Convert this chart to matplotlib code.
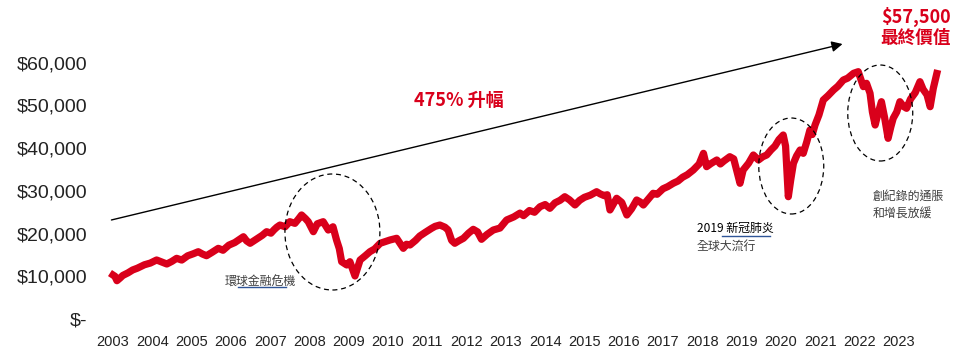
import matplotlib
matplotlib.use("Agg")
import matplotlib.pyplot as plt
from matplotlib.patches import Ellipse

# 數據 (由圖片估算)
years = [2003.00, 2003.05, 2003.10, 2003.18, 2003.25, 2003.38, 2003.50, 2003.62, 2003.80, 2003.95,
         2004.11, 2004.25, 2004.37, 2004.50, 2004.62, 2004.75, 2004.90, 2005.05, 2005.17, 2005.28,
         2005.38, 2005.52, 2005.68, 2005.80, 2005.95, 2006.10, 2006.32, 2006.40, 2006.49, 2006.60,
         2006.70, 2006.80, 2006.91, 2007.02, 2007.10, 2007.17, 2007.25, 2007.38, 2007.50, 2007.63,
         2007.72, 2007.80, 2007.90, 2007.97, 2008.10, 2008.20, 2008.35, 2008.48, 2008.60, 2008.69,
         2008.76, 2008.82, 2008.95, 2009.03, 2009.16, 2009.29, 2009.42, 2009.54, 2009.66, 2009.80,
         2009.92, 2010.05, 2010.22, 2010.39, 2010.47, 2010.56, 2010.70, 2010.81, 2010.95, 2011.11,
         2011.20, 2011.32, 2011.45, 2011.53, 2011.62, 2011.70, 2011.80, 2011.92, 2012.05, 2012.17,
         2012.28, 2012.38, 2012.52, 2012.68, 2012.85, 2013.02, 2013.20, 2013.36, 2013.45, 2013.60,
         2013.73, 2013.87, 2014.00, 2014.12, 2014.25, 2014.38, 2014.50, 2014.62, 2014.76, 2014.88,
         2015.00, 2015.15, 2015.31, 2015.40, 2015.50, 2015.58, 2015.65, 2015.82, 2015.95, 2016.08,
         2016.20, 2016.33, 2016.42, 2016.50, 2016.62, 2016.75, 2016.85, 2017.00, 2017.12, 2017.26,
         2017.38, 2017.50, 2017.62, 2017.77, 2017.92, 2018.03, 2018.11, 2018.22, 2018.37, 2018.46,
         2018.55, 2018.70, 2018.80, 2018.96, 2019.04, 2019.18, 2019.30, 2019.43, 2019.54, 2019.64,
         2019.75, 2019.85, 2019.95, 2020.06, 2020.12, 2020.19, 2020.25, 2020.32, 2020.40, 2020.49,
         2020.57, 2020.66, 2020.74, 2020.80, 2020.87, 2020.97, 2021.08, 2021.20, 2021.34, 2021.45,
         2021.59, 2021.70, 2021.85, 2021.97, 2022.04, 2022.10, 2022.18, 2022.27, 2022.33, 2022.40,
         2022.47, 2022.56, 2022.64, 2022.73, 2022.80, 2022.86, 2022.95, 2023.03, 2023.12, 2023.20,
         2023.30, 2023.42, 2023.54, 2023.62, 2023.72, 2023.80, 2023.88, 2023.97]
values = [10300, 10000, 8970, 9600, 10200, 10800, 11480, 11900, 12700, 13100,
          13820, 13300, 12880, 13500, 14210, 13800, 14800, 15300, 15760, 15200,
          14820, 15600, 16550, 16100, 17300, 17900, 19270, 18300, 17730, 18400,
          19000, 19600, 20450, 20100, 20900, 21500, 22010, 21600, 22790, 22400,
          23400, 24360, 23500, 22790, 20450, 22300, 22790, 20840, 21600, 18500,
          16500, 13420, 12650, 13420, 10070, 13820, 14800, 15760, 16400, 17730,
          18100, 18500, 18900, 16550, 17500, 17330, 18400, 19440, 20300, 21240,
          21700, 22010, 21500, 20840, 18400, 17730, 18300, 18900, 20100, 21000,
          20400, 18660, 19800, 20840, 21300, 23190, 23900, 24800, 24200, 25400,
          25000, 26300, 26800, 25920, 27200, 27800, 28640, 27900, 26700, 27800,
          28500, 29000, 29810, 29300, 28900, 29100, 25530, 28270, 27300, 24360,
          25800, 27870, 27400, 26700, 28000, 29440, 29200, 30500, 31000, 31780,
          32300, 33200, 33800, 34890, 36300, 38800, 35670, 36400, 37240, 36300,
          37000, 38010, 37500, 31780, 34890, 36500, 38410, 37240, 38000, 38410,
          39600, 40500, 42000, 43090, 40500, 28640, 32500, 36460, 38200, 39580,
          38800, 41500, 44260, 43200, 45430, 47800, 51290, 52300, 53630, 54500,
          55970, 56400, 57540, 57920, 56000, 54410, 55200, 52860, 48500, 45430,
          48000, 50890, 47200, 42310, 45000, 47000, 48500, 50890, 49800, 49340,
          51500, 53000, 55580, 53800, 52500, 49720, 54000, 57500]

year_labels = [str(y) for y in range(2003, 2024)]
y_ticks = [0, 10000, 20000, 30000, 40000, 50000, 60000]
y_labels = ["$-", "$10,000", "$20,000", "$30,000", "$40,000", "$50,000", "$60,000"]

red = "#d9001b"
cjk = ["Noto Sans CJK TC", "DejaVu Sans"]
grey = "#404040"

fig = plt.figure(figsize=(9.71, 3.6), dpi=100)
ax = fig.add_axes([113 / 971, 41 / 360, 825 / 971, 256.2 / 360])
ax.set_xlim(2003, 2024)
ax.set_ylim(0, 60000)
for s in ax.spines.values():
    s.set_visible(False)

ax.plot(years, values, color=red, lw=5.2, solid_joinstyle="round", clip_on=False, zorder=3)

ax.set_yticks(y_ticks)
ax.set_yticklabels(y_labels, family="Liberation Sans", fontsize=14, color="#222222")
ax.set_xticks(range(2003, 2024))
ax.set_xticklabels(year_labels, family="Liberation Sans", fontsize=10.5, color="#222222")
ax.tick_params(axis="y", length=0, pad=18.7)
ax.tick_params(axis="x", length=0, pad=11.5)

# 箭頭
ax.annotate("", xy=(2021.57, 64400), xytext=(2002.96, 23190), annotation_clip=False,
            arrowprops=dict(arrowstyle="-|>", color="black", lw=1.0, mutation_scale=16,
                            shrinkA=0, shrinkB=0))

# 虛線圈
for cx, cy, w, h in [(2008.585, 20375, 2.417, 27170),
                     (2020.265, 35830, 1.654, 22480),
                     (2022.53, 48240, 1.654, 22480)]:
    ax.add_patch(Ellipse((cx, cy), w, h, fill=False, ec="black", lw=0.9,
                         ls=(0, (4, 3)), clip_on=False, zorder=4))

# 文字
ax.text(2011.80, 51290, "475% 升幅", family=cjk, fontsize=13, fontweight="bold",
        color=red, ha="center", va="center")
ax.text(2023.43, 70730, "$57,500", family=cjk, fontsize=13, fontweight="bold",
        color=red, ha="center", va="center", clip_on=False)
ax.text(2023.43, 65810, "最終價值", family=cjk, fontsize=12.7, fontweight="bold",
        color=red, ha="center", va="center", clip_on=False)

ax.text(2005.85, 8670, "環球金融危機", family=cjk, fontsize=8.6, color=grey,
        ha="left", va="center")
ax.plot([2006.18, 2007.40], [7490, 7490], color="#2f5597", lw=1.0)

ax.text(2017.86, 21310, "2019 新冠肺炎", family=cjk, fontsize=8.6, color="black",
        ha="left", va="center")
ax.plot([2018.51, 2019.73], [19440, 19440], color="#2f5597", lw=1.0)
ax.text(2017.86, 17100, "全球大流行", family=cjk, fontsize=8.6, color=grey,
        ha="left", va="center")

ax.text(2022.34, 28800, "創紀錄的通脹", family=cjk, fontsize=8.6, color=grey,
        ha="left", va="center", clip_on=False)
ax.text(2022.34, 24590, "和增長放緩", family=cjk, fontsize=8.6, color=grey,
        ha="left", va="center", clip_on=False)

fig.savefig("out.png", dpi=100)
